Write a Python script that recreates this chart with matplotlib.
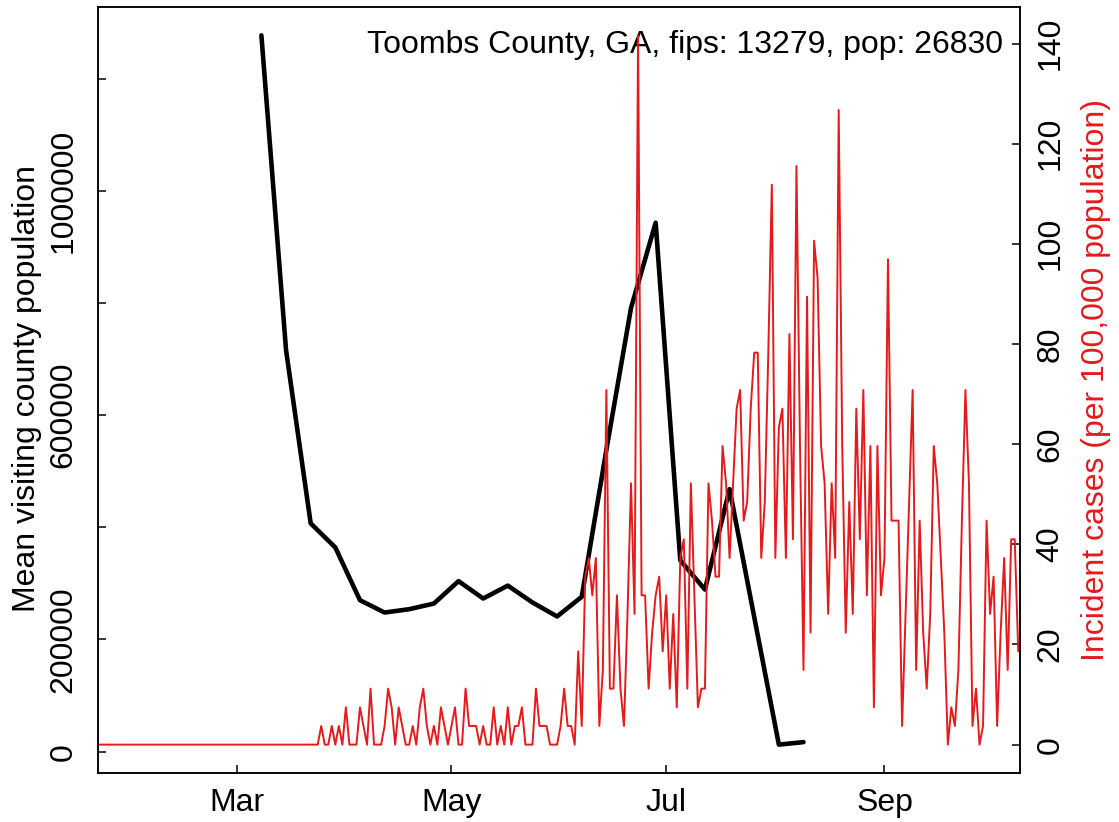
import numpy as np
import pandas as pd
import matplotlib
matplotlib.use('Agg')
import matplotlib.pyplot as plt

plt.rcParams['font.family'] = ['Liberation Sans', 'DejaVu Sans']

# county info
county_title = 'Toombs County, GA, fips: 13279, pop: 26830'
pop = 26830

# daily incident case counts, starting 2020-01-22
case_start = '2020-01-22'
case_counts = [
    0, 0, 0, 0, 0, 0, 0, 0, 0, 0, 0, 0, 0, 0, 0, 0, 0, 0, 0, 0, 0,
    0, 0, 0, 0, 0, 0, 0, 0, 0, 0, 0, 0, 0, 0, 0, 0, 0, 0, 0, 0, 0,
    0, 0, 0, 0, 0, 0, 0, 0, 0, 0, 0, 0, 0, 0, 0, 0, 0, 0, 0, 0, 0,
    1, 0, 0, 1, 0, 1, 0, 2, 0, 0,
    0, 2, 1, 0, 3, 0, 0, 0, 1, 3,
    2, 0, 2, 1, 0, 0, 1, 0, 2, 3,
    1, 0, 1, 0, 2, 1, 0, 1, 2, 0,
    0, 3, 1, 1, 1, 0, 1, 0, 0, 2,
    0, 1, 0, 2, 0, 1, 1, 2, 0, 0,
    0, 3, 1, 1, 1, 0, 0, 0, 1, 3,
    1, 1, 0, 5, 1, 9, 10, 8, 10, 1,
    4, 19, 3, 3, 8, 3, 1, 7, 14, 7,
    38, 8, 8, 3, 6, 8, 9, 5, 8, 3,
    7, 2, 10, 11, 3, 14, 8, 2, 3, 3,
    14, 12, 9, 9, 16, 14, 10, 14, 18, 19,
    12, 13, 18, 21, 21, 10, 13, 21, 30, 10,
    17, 18, 10, 22, 11, 31, 16, 4, 24, 6,
    27, 25, 16, 14, 7, 14, 10, 34, 16, 6,
    13, 7, 18, 11, 19, 8, 16, 2, 16, 8,
    10, 26, 12, 12, 12, 1, 7, 13, 19, 4,
    12, 6, 3, 7, 16, 14, 10, 6, 0, 2,
    1, 4, 12, 19, 14, 1, 3, 0, 1, 12,
    7, 9, 1, 6, 10, 4, 11, 11, 5,
]

# weekly mean visiting population, starting 2020-03-08
visit_start = '2020-03-08'
visitors = [1277000, 716000, 407000, 364000, 270000, 248000, 254000, 264000,
            304000, 273000, 296000, 266000, 241000, 276000, 538000, 791000,
            943000, 341000, 289000, 468000, 240000, 12500, 17000]

left_ticks = [0, 200000, 400000, 600000, 800000, 1000000, 1200000]
left_labels = ['0', '200000', '', '600000', '', '1000000', '']
right_ticks = [0, 20, 40, 60, 80, 100, 120, 140]
month_ticks = ['2020-03-01', '2020-05-01', '2020-07-01', '2020-09-01']
month_labels = ['Mar', 'May', 'Jul', 'Sep']

red = '#E41A1C'
fs = 23

case_dates = pd.date_range(case_start, periods=len(case_counts), freq='D')
incidence = np.array(case_counts) * 100000 / pop
visit_dates = pd.date_range(visit_start, periods=len(visitors), freq='7D')

fig = plt.figure(figsize=(11.19, 8.22), dpi=100)
ax = fig.add_axes([98 / 1119, 1 - 773 / 822, 922 / 1119, 766 / 822])
ax.plot(visit_dates, visitors, color='black', lw=3.3,
        solid_joinstyle='round', solid_capstyle='round')

vmin, vmax = min(visitors), max(visitors)
pad = 0.04 * (vmax - vmin)
ax.set_ylim(vmin - pad, vmax + pad)
ax.set_yticks(left_ticks)
ax.set_yticklabels(left_labels, rotation=90, va='center')

ax.set_xlim(pd.Timestamp('2020-01-21 14:00'), pd.Timestamp('2020-10-09 12:00'))
ax.set_xticks(pd.to_datetime(month_ticks))
ax.set_xticklabels(month_labels)

# incidence on the right axis, drawn over the black line
ax2 = ax.twinx()
ax2.plot(case_dates, incidence, color=red, lw=1.4,
         solid_joinstyle='round', solid_capstyle='round')
rmax = incidence.max()
ax2.set_ylim(-0.04 * rmax, 1.04 * rmax)
ax2.set_yticks(right_ticks)
ax2.set_yticklabels([str(t) for t in right_ticks], rotation=90, va='center')

for a in (ax, ax2):
    for s in a.spines.values():
        s.set_linewidth(1.1)
ax.tick_params(axis='both', direction='in', length=5.5, width=1.1, labelsize=fs)
ax.tick_params(axis='x', pad=11)
ax.tick_params(axis='y', pad=14)
ax2.tick_params(axis='y', direction='in', length=5.5, width=1.1, labelsize=fs, pad=11)

ax.text(0.9816, 0.9504, county_title, transform=ax.transAxes, ha='right', va='center',
        fontsize=fs)

fig.text(27 / 1119, 1 - 388 / 822, 'Mean visiting county population',
         rotation=90, ha='center', va='center', fontsize=fs)
fig.text(1096 / 1119, 1 - 380 / 822, 'Incident cases (per 100,000 population)',
         rotation=90, ha='center', va='center', fontsize=fs, color=red)

fig.savefig('out.png', dpi=100)
